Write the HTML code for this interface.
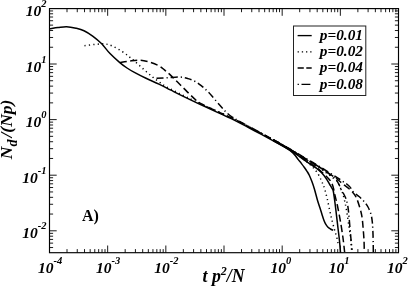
<!DOCTYPE html>
<html><head><meta charset="utf-8"><style>
html,body{margin:0;padding:0;background:#fff;}
svg{display:block;filter:grayscale(1)}
text{font-family:"Liberation Serif",serif;font-weight:bold;fill:#000}
.tl{font-style:italic;font-size:15.5px}
</style></head><body>
<svg width="409" height="286" viewBox="0 0 409 286">
<rect width="409" height="286" fill="#fff"/>
<rect x="49.5" y="8.6" width="349.0" height="244.1" fill="none" stroke="#000" stroke-width="1.15"/>
<path d="M49.50 252.70L49.50 245.50M49.50 8.60L49.50 15.80M67.01 252.70L67.01 249.10M67.01 8.60L67.01 12.20M77.25 252.70L77.25 249.10M77.25 8.60L77.25 12.20M84.52 252.70L84.52 249.10M84.52 8.60L84.52 12.20M90.16 252.70L90.16 249.10M90.16 8.60L90.16 12.20M94.77 252.70L94.77 249.10M94.77 8.60L94.77 12.20M98.66 252.70L98.66 249.10M98.66 8.60L98.66 12.20M102.03 252.70L102.03 249.10M102.03 8.60L102.03 12.20M105.01 252.70L105.01 249.10M105.01 8.60L105.01 12.20M107.67 252.70L107.67 245.50M107.67 8.60L107.67 15.80M125.18 252.70L125.18 249.10M125.18 8.60L125.18 12.20M135.42 252.70L135.42 249.10M135.42 8.60L135.42 12.20M142.69 252.70L142.69 249.10M142.69 8.60L142.69 12.20M148.33 252.70L148.33 249.10M148.33 8.60L148.33 12.20M152.94 252.70L152.94 249.10M152.94 8.60L152.94 12.20M156.83 252.70L156.83 249.10M156.83 8.60L156.83 12.20M160.20 252.70L160.20 249.10M160.20 8.60L160.20 12.20M163.18 252.70L163.18 249.10M163.18 8.60L163.18 12.20M165.84 252.70L165.84 245.50M165.84 8.60L165.84 15.80M183.35 252.70L183.35 249.10M183.35 8.60L183.35 12.20M193.59 252.70L193.59 249.10M193.59 8.60L193.59 12.20M200.86 252.70L200.86 249.10M200.86 8.60L200.86 12.20M206.50 252.70L206.50 249.10M206.50 8.60L206.50 12.20M211.11 252.70L211.11 249.10M211.11 8.60L211.11 12.20M215.00 252.70L215.00 249.10M215.00 8.60L215.00 12.20M218.37 252.70L218.37 249.10M218.37 8.60L218.37 12.20M221.35 252.70L221.35 249.10M221.35 8.60L221.35 12.20M224.01 252.70L224.01 245.50M224.01 8.60L224.01 15.80M241.52 252.70L241.52 249.10M241.52 8.60L241.52 12.20M251.76 252.70L251.76 249.10M251.76 8.60L251.76 12.20M259.03 252.70L259.03 249.10M259.03 8.60L259.03 12.20M264.67 252.70L264.67 249.10M264.67 8.60L264.67 12.20M269.28 252.70L269.28 249.10M269.28 8.60L269.28 12.20M273.17 252.70L273.17 249.10M273.17 8.60L273.17 12.20M276.54 252.70L276.54 249.10M276.54 8.60L276.54 12.20M279.52 252.70L279.52 249.10M279.52 8.60L279.52 12.20M282.18 252.70L282.18 245.50M282.18 8.60L282.18 15.80M299.69 252.70L299.69 249.10M299.69 8.60L299.69 12.20M309.93 252.70L309.93 249.10M309.93 8.60L309.93 12.20M317.20 252.70L317.20 249.10M317.20 8.60L317.20 12.20M322.84 252.70L322.84 249.10M322.84 8.60L322.84 12.20M327.45 252.70L327.45 249.10M327.45 8.60L327.45 12.20M331.34 252.70L331.34 249.10M331.34 8.60L331.34 12.20M334.71 252.70L334.71 249.10M334.71 8.60L334.71 12.20M337.69 252.70L337.69 249.10M337.69 8.60L337.69 12.20M340.35 252.70L340.35 245.50M340.35 8.60L340.35 15.80M357.86 252.70L357.86 249.10M357.86 8.60L357.86 12.20M368.10 252.70L368.10 249.10M368.10 8.60L368.10 12.20M375.37 252.70L375.37 249.10M375.37 8.60L375.37 12.20M381.01 252.70L381.01 249.10M381.01 8.60L381.01 12.20M385.62 252.70L385.62 249.10M385.62 8.60L385.62 12.20M389.51 252.70L389.51 249.10M389.51 8.60L389.51 12.20M392.88 252.70L392.88 249.10M392.88 8.60L392.88 12.20M395.86 252.70L395.86 249.10M395.86 8.60L395.86 12.20M398.52 252.70L398.52 245.50M398.52 8.60L398.52 15.80M49.50 247.54L53.10 247.54M398.50 247.54L394.90 247.54M49.50 243.13L53.10 243.13M398.50 243.13L394.90 243.13M49.50 239.41L53.10 239.41M398.50 239.41L394.90 239.41M49.50 236.19L53.10 236.19M398.50 236.19L394.90 236.19M49.50 233.34L53.10 233.34M398.50 233.34L394.90 233.34M49.50 230.80L56.70 230.80M398.50 230.80L391.30 230.80M49.50 214.06L53.10 214.06M398.50 214.06L394.90 214.06M49.50 204.27L53.10 204.27M398.50 204.27L394.90 204.27M49.50 197.33L53.10 197.33M398.50 197.33L394.90 197.33M49.50 191.94L53.10 191.94M398.50 191.94L394.90 191.94M49.50 187.53L53.10 187.53M398.50 187.53L394.90 187.53M49.50 183.81L53.10 183.81M398.50 183.81L394.90 183.81M49.50 180.59L53.10 180.59M398.50 180.59L394.90 180.59M49.50 177.74L53.10 177.74M398.50 177.74L394.90 177.74M49.50 175.20L56.70 175.20M398.50 175.20L391.30 175.20M49.50 158.46L53.10 158.46M398.50 158.46L394.90 158.46M49.50 148.67L53.10 148.67M398.50 148.67L394.90 148.67M49.50 141.73L53.10 141.73M398.50 141.73L394.90 141.73M49.50 136.34L53.10 136.34M398.50 136.34L394.90 136.34M49.50 131.93L53.10 131.93M398.50 131.93L394.90 131.93M49.50 128.21L53.10 128.21M398.50 128.21L394.90 128.21M49.50 124.99L53.10 124.99M398.50 124.99L394.90 124.99M49.50 122.14L53.10 122.14M398.50 122.14L394.90 122.14M49.50 119.60L56.70 119.60M398.50 119.60L391.30 119.60M49.50 102.86L53.10 102.86M398.50 102.86L394.90 102.86M49.50 93.07L53.10 93.07M398.50 93.07L394.90 93.07M49.50 86.13L53.10 86.13M398.50 86.13L394.90 86.13M49.50 80.74L53.10 80.74M398.50 80.74L394.90 80.74M49.50 76.33L53.10 76.33M398.50 76.33L394.90 76.33M49.50 72.61L53.10 72.61M398.50 72.61L394.90 72.61M49.50 69.39L53.10 69.39M398.50 69.39L394.90 69.39M49.50 66.54L53.10 66.54M398.50 66.54L394.90 66.54M49.50 64.00L56.70 64.00M398.50 64.00L391.30 64.00M49.50 47.26L53.10 47.26M398.50 47.26L394.90 47.26M49.50 37.47L53.10 37.47M398.50 37.47L394.90 37.47M49.50 30.53L53.10 30.53M398.50 30.53L394.90 30.53M49.50 25.14L53.10 25.14M398.50 25.14L394.90 25.14M49.50 20.73L53.10 20.73M398.50 20.73L394.90 20.73M49.50 17.01L53.10 17.01M398.50 17.01L394.90 17.01M49.50 13.79L53.10 13.79M398.50 13.79L394.90 13.79M49.50 10.94L53.10 10.94M398.50 10.94L394.90 10.94" stroke="#000" stroke-width="0.9" fill="none"/>
<g fill="none" stroke="#000" stroke-width="1.5" stroke-linejoin="round">
<path d="M50.00 28.70 C51.33 28.52 55.25 27.93 58.00 27.60 C60.75 27.27 63.50 26.60 66.50 26.70 C69.50 26.80 73.08 27.53 76.00 28.20 C78.92 28.87 81.17 29.35 84.00 30.70 C86.83 32.05 90.05 34.12 93.00 36.30 C95.95 38.48 98.87 40.92 101.70 43.80 C104.53 46.68 106.98 50.47 110.00 53.60 C113.02 56.73 116.97 60.20 119.80 62.60 C122.63 65.00 124.57 66.37 127.00 68.00 C129.43 69.63 131.23 70.68 134.40 72.40 C137.57 74.12 141.92 76.35 146.00 78.30 C150.08 80.25 154.73 82.12 158.90 84.10 C163.07 86.08 166.93 88.17 171.00 90.20 C175.07 92.23 178.47 93.95 183.30 96.30 C188.13 98.65 194.22 101.58 200.00 104.30 C205.78 107.02 211.88 109.77 218.00 112.60 C224.12 115.43 230.53 118.23 236.70 121.30 C242.87 124.37 248.90 127.75 255.00 131.00 C261.10 134.25 268.63 138.27 273.30 140.80 C277.97 143.33 280.55 144.80 283.00 146.20 C285.45 147.60 286.50 148.20 288.00 149.20 C289.50 150.20 290.80 151.13 292.00 152.20 C293.20 153.27 294.15 154.37 295.20 155.60 C296.25 156.83 297.25 158.27 298.30 159.60 C299.35 160.93 300.48 162.28 301.50 163.60 C302.52 164.92 303.48 166.22 304.40 167.50 C305.32 168.78 306.18 170.02 307.00 171.30 C307.82 172.58 308.47 173.45 309.30 175.20 C310.13 176.95 311.15 179.50 312.00 181.80 C312.85 184.10 313.50 185.97 314.40 189.00 C315.30 192.03 316.47 196.83 317.40 200.00 C318.33 203.17 319.23 205.60 320.00 208.00 C320.77 210.40 321.33 212.32 322.00 214.40 C322.67 216.48 323.38 218.87 324.00 220.50 C324.62 222.13 325.03 223.07 325.70 224.20 C326.37 225.33 327.20 226.50 328.00 227.30 C328.80 228.10 329.67 228.50 330.50 229.00 C331.33 229.50 332.58 230.08 333.00 230.30" />
<path d="M273.30 140.60 C274.92 141.50 280.22 144.40 283.00 146.00 C285.78 147.60 287.17 148.37 290.00 150.20 C292.83 152.03 297.60 155.33 300.00 157.00 C302.40 158.67 302.65 158.98 304.40 160.20 C306.15 161.42 308.45 162.95 310.50 164.30 C312.55 165.65 314.85 166.88 316.70 168.30 C318.55 169.72 320.05 171.13 321.60 172.80 C323.15 174.47 324.64 176.35 326.00 178.30 C327.36 180.25 328.78 182.88 329.75 184.50 C330.72 186.12 331.22 186.92 331.80 188.00 C332.38 189.08 332.78 189.00 333.25 191.00 C333.72 193.00 334.18 196.92 334.60 200.00 C335.03 203.08 335.22 204.67 335.80 209.50 C336.38 214.33 337.48 223.75 338.10 229.00 C338.72 234.25 339.10 237.08 339.50 241.00 C339.90 244.92 340.33 250.58 340.50 252.50" />
<path d="M84.50 45.70 C86.25 45.48 91.62 44.70 95.00 44.40 C98.38 44.10 101.80 43.58 104.80 43.90 C107.80 44.22 110.10 45.02 113.00 46.30 C115.90 47.58 119.53 49.90 122.20 51.60 C124.87 53.30 126.97 54.93 129.00 56.50 C131.03 58.07 132.48 59.33 134.40 61.00 C136.32 62.67 138.45 64.67 140.50 66.50 C142.55 68.33 144.62 70.20 146.70 72.00 C148.78 73.80 150.97 75.67 153.00 77.30 C155.03 78.93 156.73 80.25 158.90 81.80 C161.07 83.35 161.93 84.32 166.00 86.60 C170.07 88.88 177.63 92.70 183.30 95.50 C188.97 98.30 191.10 99.25 200.00 103.40 C208.90 107.55 224.48 114.32 236.70 120.40 C248.92 126.48 264.42 135.00 273.30 139.90 C282.18 144.80 285.55 147.02 290.00 149.80 C294.45 152.58 297.00 154.43 300.00 156.60 C303.00 158.77 305.83 160.98 308.00 162.80 C310.17 164.62 311.42 165.80 313.00 167.50 C314.58 169.20 316.17 170.95 317.50 173.00 C318.83 175.05 320.12 177.97 321.00 179.80 C321.88 181.63 322.22 182.55 322.80 184.00 C323.38 185.45 323.77 186.05 324.50 188.50 C325.23 190.95 326.18 194.38 327.20 198.70 C328.22 203.02 329.47 209.52 330.60 214.40 C331.73 219.28 332.98 224.23 334.00 228.00 C335.02 231.77 336.03 234.42 336.70 237.00 C337.37 239.58 337.78 242.42 338.00 243.50" stroke-dasharray="1.2 3.2"/>
<path d="M273.30 139.90 C276.08 141.50 285.55 146.85 290.00 149.50 C294.45 152.15 295.00 152.67 300.00 155.80 C305.00 158.93 315.00 165.02 320.00 168.30 C325.00 171.58 327.50 173.67 330.00 175.50 C332.50 177.33 333.73 178.25 335.00 179.30 C336.27 180.35 336.77 180.52 337.60 181.80 C338.43 183.08 339.22 185.25 340.00 187.00 C340.78 188.75 341.60 190.30 342.30 192.30 C343.00 194.30 343.52 196.13 344.20 199.00 C344.88 201.87 345.60 204.90 346.40 209.50 C347.20 214.10 348.30 221.85 349.00 226.60 C349.70 231.35 350.17 234.10 350.60 238.00 C351.03 241.90 351.43 248.00 351.60 250.00" stroke-dasharray="1.2 3.2"/>
<path d="M119.80 62.60 C121.50 62.33 126.53 61.38 130.00 61.00 C133.47 60.62 137.27 60.08 140.60 60.30 C143.93 60.52 146.95 61.38 150.00 62.30 C153.05 63.22 156.40 64.47 158.90 65.80 C161.40 67.13 162.98 68.67 165.00 70.30 C167.02 71.93 169.00 73.73 171.00 75.60 C173.00 77.47 174.95 79.47 177.00 81.50 C179.05 83.53 181.22 85.72 183.30 87.80 C185.38 89.88 187.45 92.00 189.50 94.00 C191.55 96.00 193.85 98.27 195.60 99.80 C197.35 101.33 196.27 101.22 200.00 103.20 C203.73 105.18 211.88 108.83 218.00 111.70 C224.12 114.57 227.48 115.70 236.70 120.40 C245.92 125.10 264.42 135.05 273.30 139.90 C282.18 144.75 285.55 146.82 290.00 149.50 C294.45 152.18 296.58 153.65 300.00 156.00 C303.42 158.35 307.72 161.67 310.50 163.60 C313.28 165.53 314.78 166.15 316.70 167.60 C318.62 169.05 320.28 170.73 322.00 172.30 C323.72 173.87 325.58 175.55 327.00 177.00 C328.42 178.45 329.50 179.42 330.50 181.00 C331.50 182.58 332.25 184.08 333.00 186.50 C333.75 188.92 334.25 192.25 335.00 195.50 C335.75 198.75 336.58 201.62 337.50 206.00 C338.42 210.38 339.58 216.47 340.50 221.80 C341.42 227.13 342.32 232.97 343.00 238.00 C343.68 243.03 344.33 249.67 344.60 252.00" stroke-dasharray="7 3.5"/>
<path d="M273.30 139.80 C276.08 141.38 285.55 146.68 290.00 149.30 C294.45 151.92 295.00 152.47 300.00 155.50 C305.00 158.53 314.17 163.83 320.00 167.50 C325.83 171.17 331.33 174.88 335.00 177.50 C338.67 180.12 339.38 181.12 342.00 183.25 C344.62 185.38 348.42 187.96 350.75 190.25 C353.08 192.54 354.46 193.99 356.00 197.00 C357.54 200.01 359.00 204.97 360.00 208.30 C361.00 211.63 361.50 213.93 362.00 217.00 C362.50 220.07 362.67 222.87 363.00 226.70 C363.33 230.53 363.78 235.70 364.00 240.00 C364.22 244.30 364.25 250.42 364.30 252.50" stroke-dasharray="7 3.5"/>
<path d="M156.50 78.30 C158.42 78.20 164.08 77.92 168.00 77.70 C171.92 77.48 176.67 76.85 180.00 77.00 C183.33 77.15 185.40 77.82 188.00 78.60 C190.60 79.38 193.27 80.42 195.60 81.70 C197.93 82.98 199.97 84.67 202.00 86.30 C204.03 87.93 205.80 89.47 207.80 91.50 C209.80 93.53 211.88 96.08 214.00 98.50 C216.12 100.92 218.50 103.75 220.50 106.00 C222.50 108.25 224.12 110.20 226.00 112.00 C227.88 113.80 229.47 115.20 231.80 116.80 C234.13 118.40 233.08 117.77 240.00 121.60 C246.92 125.43 264.97 135.18 273.30 139.80 C281.63 144.42 285.55 146.68 290.00 149.30 C294.45 151.92 295.00 152.47 300.00 155.50 C305.00 158.53 314.67 164.08 320.00 167.50 C325.33 170.92 329.33 174.00 332.00 176.00 C334.67 178.00 334.83 178.08 336.00 179.50 C337.17 180.92 338.12 182.75 339.00 184.50 C339.88 186.25 340.47 188.33 341.30 190.00 C342.13 191.67 343.17 192.88 344.00 194.50 C344.83 196.12 345.67 197.78 346.30 199.70 C346.93 201.62 347.38 203.55 347.80 206.00 C348.22 208.45 348.35 209.73 348.80 214.40 C349.25 219.07 349.97 228.07 350.50 234.00 C351.03 239.93 351.75 247.33 352.00 250.00" stroke-dasharray="7 3 1.2 3"/>
<path d="M273.30 139.60 C276.08 141.17 285.55 146.43 290.00 149.00 C294.45 151.57 295.00 152.03 300.00 155.00 C305.00 157.97 313.33 162.72 320.00 166.80 C326.67 170.88 335.17 176.30 340.00 179.50 C344.83 182.70 346.70 183.85 349.00 186.00 C351.30 188.15 352.13 190.65 353.80 192.40 C355.47 194.15 357.37 195.07 359.00 196.50 C360.63 197.93 362.10 199.25 363.60 201.00 C365.10 202.75 366.77 204.77 368.00 207.00 C369.23 209.23 370.28 211.90 371.00 214.40 C371.72 216.90 371.98 219.13 372.30 222.00 C372.62 224.87 372.75 228.27 372.90 231.60 C373.05 234.93 373.13 238.52 373.20 242.00 C373.27 245.48 373.28 250.75 373.30 252.50" stroke-dasharray="7 3 1.2 3"/>
</g>
<text x="46.5" y="238.4" text-anchor="end" class="tl">10<tspan dy="-9" font-size="10.5">-2</tspan></text>
<text x="46.5" y="182.8" text-anchor="end" class="tl">10<tspan dy="-9" font-size="10.5">-1</tspan></text>
<text x="46.5" y="127.2" text-anchor="end" class="tl">10<tspan dy="-9" font-size="10.5">0</tspan></text>
<text x="46.5" y="71.6" text-anchor="end" class="tl">10<tspan dy="-9" font-size="10.5">1</tspan></text>
<text x="46.5" y="16" text-anchor="end" class="tl">10<tspan dy="-9" font-size="10.5">2</tspan></text>
<text x="37.9" y="273.3" class="tl">10<tspan dy="-9" font-size="10.5">-4</tspan></text>
<text x="96.07" y="273.3" class="tl">10<tspan dy="-9" font-size="10.5">-3</tspan></text>
<text x="154.24" y="273.3" class="tl">10<tspan dy="-9" font-size="10.5">-2</tspan></text>
<text x="270.58" y="273.3" class="tl">10<tspan dy="-9" font-size="10.5">0</tspan></text>
<text x="328.75" y="273.3" class="tl">10<tspan dy="-9" font-size="10.5">1</tspan></text>
<text x="386.92" y="273.3" class="tl">10<tspan dy="-9" font-size="10.5">2</tspan></text>
<text x="82" y="221" font-size="16">A)</text>
<text transform="translate(12.3,159.2) rotate(-90)" class="tl" style="font-size:17.5px">N<tspan dy="5" font-size="14">d</tspan><tspan dy="-5" dx="-2.3"> /(Np)</tspan></text>
<text x="202.5" y="281.5" class="tl" style="font-size:17.8px">t p<tspan dy="-7" font-size="12">2</tspan><tspan dy="7">/N</tspan></text>
<rect x="293.5" y="26" width="72.3" height="69.5" fill="#fff" stroke="#222" stroke-width="1"/>
<g stroke="#000" stroke-width="1.35" fill="none">
<path d="M297.6 35.6H311.7"/>
<path d="M297.6 51.9H312" stroke-dasharray="1.3 2.9"/>
<path d="M297.6 68H311.7" stroke-dasharray="6.2 2.5"/>
<path d="M297.6 84.3H310.4" stroke-dasharray="1.3 2.6 9 3"/>
</g>
<text x="319.8" y="39.9" class="tl" style="font-size:15.3px">p=0.01</text>
<text x="319.8" y="56.2" class="tl" style="font-size:15.3px">p=0.02</text>
<text x="319.8" y="72.4" class="tl" style="font-size:15.3px">p=0.04</text>
<text x="319.8" y="88.7" class="tl" style="font-size:15.3px">p=0.08</text>
</svg>
</body></html>
